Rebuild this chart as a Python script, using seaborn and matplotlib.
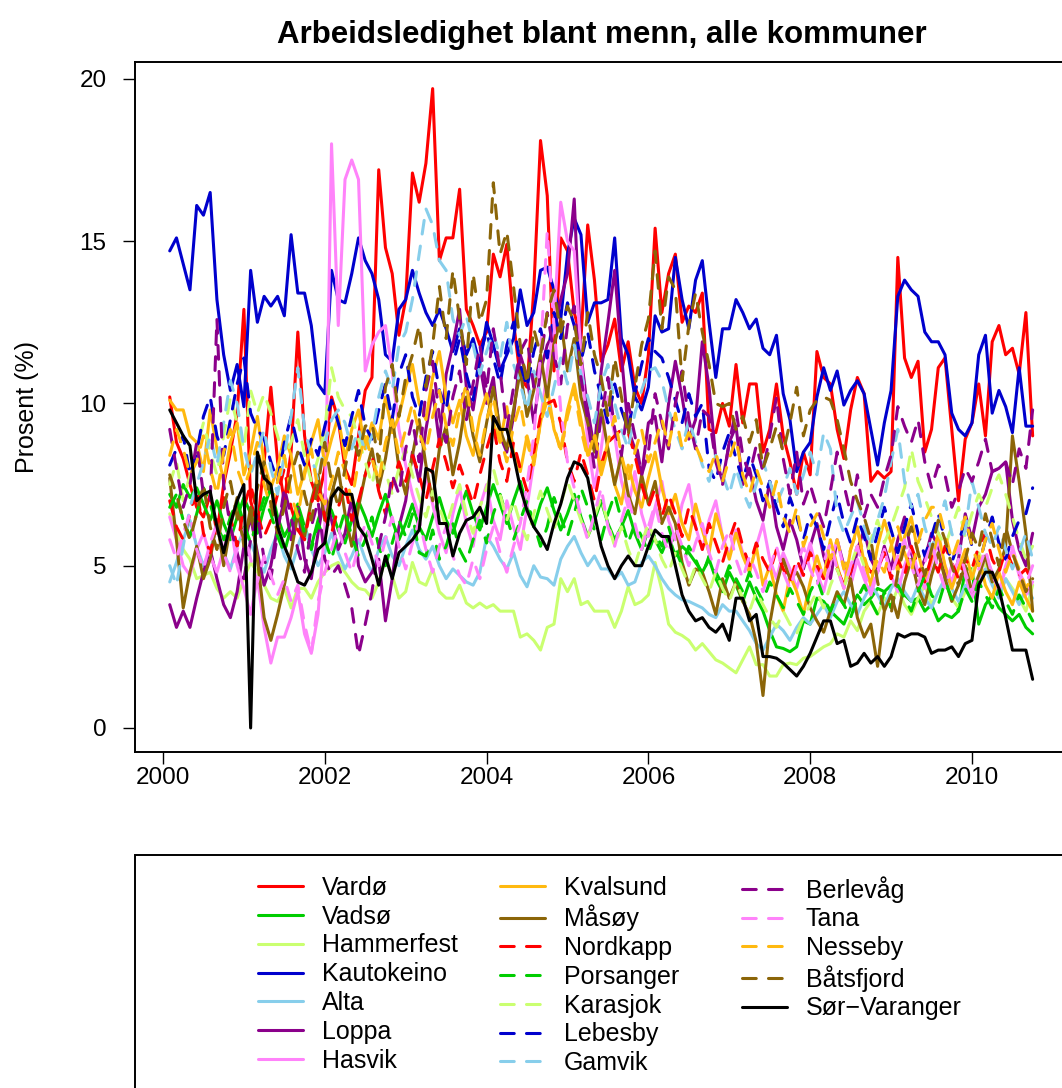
import numpy as np
import pandas as pd
import matplotlib
matplotlib.use("Agg")
import matplotlib.pyplot as plt
from matplotlib.patches import Rectangle
import seaborn as sns

# Monthly unemployment rate among men (percent), Feb 2000 - Oct 2010
months = np.arange(1, 130)
years = 2000 + months / 12

vardo = [10.2, 8.8, 8.3, 7.5, 6.8, 6.5, 7.2, 6.0, 7.5, 8.5, 9.7, 12.9,
         7.0, 6.2, 8.2, 10.5, 8.2, 7.0, 8.5, 12.2, 9.0, 7.6, 7.0, 8.0,
         10.2, 9.5, 8.0, 7.5, 9.0, 10.4, 10.8, 17.2, 14.8, 14.0, 12.1, 13.2,
         17.1, 16.2, 17.4, 19.7, 14.4, 15.1, 15.1, 16.6, 12.9, 12.4, 11.8, 12.2,
         14.6, 13.9, 14.9, 12.5, 10.8, 10.5, 13.5, 18.1, 16.4, 11.0, 15.1, 14.7,
         12.8, 12.0, 15.5, 13.8, 11.3, 11.8, 12.6, 11.0, 11.9, 10.5, 10.0, 11.5,
         15.4, 12.8, 14.0, 14.6, 12.5, 13.0, 12.8, 13.4, 9.2, 9.1, 10.0, 9.3,
         11.2, 9.4, 10.6, 10.6, 8.5, 9.2, 10.6, 9.0, 8.2, 7.2, 8.5, 7.8,
         11.6, 10.8, 10.6, 9.2, 8.3, 9.8, 10.8, 10.3, 7.6, 7.9, 7.7, 7.9,
         14.5, 11.4, 10.8, 11.3, 8.5, 9.2, 11.1, 11.4, 9.2, 7.0, 8.9, 9.4,
         10.6, 9.0, 11.9, 12.4, 11.5, 11.7, 10.9, 12.8, 9.0]

vadso = [7.2, 6.8, 7.5, 7.1, 7.4, 6.9, 6.4, 7.0, 6.3, 5.8, 6.5, 7.1,
         6.6, 6.0, 6.8, 7.4, 6.5, 5.9, 6.3, 6.9, 6.2, 5.6, 6.4, 7.0,
         6.7, 6.1, 5.7, 6.4, 7.0, 6.5, 5.9, 6.6, 7.2, 6.4, 5.8, 6.3,
         6.9, 6.2, 5.8, 6.5, 7.1, 6.4, 6.0, 6.7, 7.3, 6.6, 6.1, 6.8,
         7.5, 6.9, 6.3, 7.0, 7.6, 6.8, 6.2, 6.9, 7.4, 6.7, 6.1, 6.6,
         7.2, 6.5, 5.9, 6.4, 7.0, 6.3, 5.8, 6.2, 6.7, 6.0, 5.5, 6.1,
         5.8, 5.4, 5.9, 5.3, 5.6, 5.4, 5.1, 4.8, 5.2, 4.6, 4.2, 4.8,
         4.4, 3.9, 4.5, 4.0, 3.6, 3.0, 2.5, 2.45, 2.35, 2.5, 3.3, 3.2,
         4.0, 3.9, 3.6, 3.4, 3.2, 3.7, 4.1, 3.8, 4.0, 4.3, 4.2, 4.4,
         4.4, 4.1, 3.9, 4.0, 3.6, 3.8, 3.3, 3.5, 3.4, 3.6, 4.9, 4.9,
         3.2, 3.8, 4.1, 3.7, 3.5, 3.3, 3.5, 3.1, 2.9]

hammerfest = [6.6, 6.0, 5.5, 5.2, 4.6, 4.7, 4.8, 4.3, 4.0, 4.2, 4.0, 4.6,
              5.1, 4.8, 4.4, 4.0, 3.9, 4.3, 3.7, 4.3, 4.3, 4.0, 4.5, 4.8,
              5.0, 5.1, 4.8, 4.5, 4.3, 4.25, 4.0, 4.5, 5.2, 4.7, 4.0, 4.2,
              5.1, 4.5, 4.4, 4.9, 4.2, 4.0, 4.0, 4.4, 3.85, 3.7, 3.85, 3.7,
              3.8, 3.6, 3.6, 3.6, 2.8, 2.9, 2.7, 2.4, 3.1, 3.2, 4.6, 4.2,
              4.6, 3.8, 3.9, 3.6, 3.6, 3.6, 3.1, 3.6, 4.35, 3.8, 3.9, 4.1,
              5.1, 4.25, 3.2, 2.95, 2.85, 2.7, 2.4, 2.6, 2.35, 2.1, 2.0, 1.85,
              1.7, 2.1, 2.5, 1.95, 1.95, 1.6, 1.6, 1.95, 2.0, 1.95, 2.15, 2.2,
              2.35, 2.5, 2.6, 2.9, 2.8, 3.3, 3.0, 3.6, 3.9, 3.5, 4.0, 3.8,
              4.3, 3.8, 3.5, 4.0, 4.4, 3.8, 4.2, 4.6, 4.0, 3.7, 4.2, 4.8,
              5.4, 5.0, 4.5, 4.1, 4.6, 4.3, 4.0, 3.6, 4.4]

kautokeino = [14.7, 15.1, 14.3, 13.5, 16.1, 15.8, 16.5, 13.2, 11.5, 10.4, 11.2, 9.9,
              14.1, 12.5, 13.3, 13.0, 13.3, 12.7, 15.2, 13.4, 13.4, 12.4, 10.6, 10.3,
              14.1, 13.2, 13.1, 14.0, 15.1, 14.4, 14.0, 13.2, 11.5, 11.3, 12.9, 13.2,
              14.1, 13.4, 12.8, 12.4, 12.9, 12.3, 11.6, 12.3, 11.5, 12.0, 11.2, 12.5,
              11.8, 11.0, 11.5, 12.0, 13.5, 12.4, 12.8, 14.1, 14.2, 13.5, 12.6, 14.6,
              15.7, 15.2, 12.5, 13.1, 13.1, 13.2, 15.1, 12.0, 11.5, 10.2, 9.8, 10.5,
              12.7, 12.2, 12.3, 14.5, 13.2, 12.3, 13.8, 14.4, 12.5, 10.8, 12.3, 12.3,
              13.2, 12.8, 12.3, 12.6, 11.7, 11.5, 12.1, 10.3, 9.5, 7.9, 8.5, 8.8,
              10.2, 11.1, 10.4, 11.0, 9.95, 10.4, 10.7, 10.3, 9.2, 8.1, 9.4, 10.4,
              13.3, 13.8, 13.5, 13.3, 12.2, 11.9, 11.9, 11.5, 9.7, 9.2, 9.0, 9.4,
              11.5, 12.1, 9.7, 10.4, 9.9, 9.1, 11.1, 9.3, 9.3]

alta = [4.5, 5.1, 5.8, 6.4, 5.6, 5.0, 5.5, 6.2, 5.4, 4.9, 5.6, 6.1,
        5.7, 5.2, 4.8, 5.5, 6.0, 5.3, 4.9, 5.6, 6.2, 5.5, 5.0, 5.4,
        6.0, 5.4, 4.9, 5.3, 5.8, 5.2, 4.8, 5.5, 5.9, 5.3, 5.0, 5.6,
        6.1, 5.5, 5.2, 5.6, 5.0, 4.6, 4.9, 4.7, 4.5, 4.4, 4.8, 5.9,
        5.6, 5.2, 4.9, 5.4, 4.7, 4.35, 5.0, 4.65, 4.6, 4.4, 5.2, 5.6,
        5.9, 5.4, 5.0, 5.3, 4.9, 4.9, 4.6, 4.8, 4.4, 4.5, 5.1, 5.3,
        5.0, 4.6, 4.3, 4.1, 3.95, 3.9, 3.8, 3.7, 3.5, 3.4, 3.8, 3.6,
        3.6, 3.3, 3.0, 2.6, 2.4, 2.8, 3.2, 3.0, 2.7, 3.1, 3.4, 3.2,
        3.5, 3.8, 3.4, 3.9, 4.2, 3.8, 3.5, 4.0, 4.4, 4.1, 3.7, 4.3,
        4.6, 4.2, 3.9, 4.4, 4.0, 3.7, 4.2, 4.6, 4.3, 3.9, 4.4, 4.1,
        4.5, 4.9, 4.4, 4.0, 4.6, 4.2, 3.8, 4.3, 4.0]

loppa = [3.8, 3.1, 3.6, 3.1, 4.0, 4.8, 5.5, 4.6, 3.8, 3.4, 4.2, 5.6,
         6.5, 5.4, 4.4, 5.0, 6.2, 7.0, 5.8, 6.8, 5.2, 4.6, 6.0, 7.2,
         6.4, 5.5, 6.0, 7.1, 5.0, 4.5, 4.8, 5.2, 3.3, 4.6, 6.2, 7.0,
         8.5, 7.6, 9.2, 10.4, 8.8, 10.9, 11.8, 12.9, 10.5, 9.8, 11.2, 10.0,
         10.8, 9.0, 8.5, 9.6, 11.5, 10.8, 9.4, 11.0, 11.8, 12.2, 13.2, 14.0,
         16.3, 11.5, 9.8, 8.6, 11.0, 12.5, 14.1, 11.5, 9.2, 8.6, 7.8, 9.4,
         9.6, 8.2, 10.0, 11.3, 10.2, 8.9, 9.5, 11.9, 10.5, 8.3, 7.6, 8.8,
         9.3, 7.5, 8.0, 7.0, 6.4, 7.6, 6.2, 5.5, 6.4, 5.8, 4.9, 5.6,
         6.3, 5.3, 4.6, 5.8, 5.0, 4.4, 5.5, 6.1, 5.2, 4.8, 5.6, 4.9,
         5.8, 6.5, 5.4, 4.7, 5.2, 6.0, 5.6, 4.8, 4.4, 5.2, 6.6, 5.8,
         6.8, 7.2, 7.9, 8.0, 8.2, 6.4, 5.5, 5.0, 6.0]

hasvik = [6.5, 5.8, 5.0, 4.7, 5.5, 6.0, 5.3, 4.8, 5.5, 6.3, 5.0, 4.3,
          3.5, 4.6, 3.1, 2.0, 2.8, 2.8, 3.4, 4.2, 2.9, 2.3, 3.5, 6.2,
          18.0, 12.4, 16.9, 17.5, 16.9, 11.0, 11.8, 12.2, 12.4, 11.0, 9.2, 8.1,
          7.2, 6.5, 7.8, 6.9, 6.0, 5.4, 6.6, 7.4, 6.3, 5.6, 6.8, 7.5,
          6.4, 5.8, 7.0, 6.2, 5.5, 6.8, 8.2, 9.5, 11.0, 12.5, 16.2, 15.0,
          14.7, 11.5, 8.8, 7.4, 8.6, 10.2, 9.0, 7.6, 6.8, 7.9, 6.6, 5.9,
          6.8, 7.6, 6.4, 5.8, 6.9, 7.5, 6.2, 5.5, 6.4, 7.0, 5.9, 5.3,
          6.1, 5.4, 4.8, 5.6, 6.3, 5.2, 4.6, 5.4, 4.9, 4.3, 5.0, 5.7,
          4.8, 4.2, 5.1, 5.8, 4.9, 4.4, 5.2, 4.6, 4.1, 4.8, 5.5, 4.7,
          4.2, 5.0, 5.6, 4.8, 4.3, 5.1, 5.8, 5.0, 4.5, 5.2, 4.7, 4.0,
          4.6, 5.3, 4.8, 4.2, 4.9, 5.5, 4.7, 4.1, 4.5]

kvalsund = [10.1, 9.8, 9.8, 9.0, 8.8, 7.9, 9.8, 8.6, 7.6, 8.8, 9.4, 7.8,
            8.5, 9.6, 8.2, 7.4, 8.0, 9.0, 8.4, 7.2, 7.9, 8.8, 9.5, 8.1,
            8.9, 9.6, 8.3, 9.2, 9.8, 8.6, 9.4, 8.9, 10.2, 9.1, 9.6, 10.5,
            11.2, 10.0, 9.5, 10.8, 11.6, 10.2, 9.4, 10.1, 9.0, 8.4, 9.6, 10.3,
            9.4, 8.8, 9.9, 8.5, 7.9, 9.0, 8.2, 9.4, 10.5, 9.2, 8.6, 9.8,
            10.6, 9.5, 8.4, 9.0, 7.8, 8.6, 7.5, 6.9, 8.1, 7.3, 6.8, 7.7,
            8.5, 7.4, 6.6, 7.2, 6.3, 5.8, 6.9, 6.1, 5.4, 6.6, 5.9, 5.2,
            6.0, 5.3, 4.8, 5.6, 4.4, 5.0, 4.1, 3.6, 4.7, 4.2, 3.5, 4.5,
            5.3, 4.6, 5.8, 5.0, 4.3, 5.5, 6.2, 5.1, 4.4, 5.6, 6.4, 5.7,
            4.8, 5.9, 6.5, 5.4, 4.6, 5.2, 6.0, 5.0, 4.3, 4.9, 5.5, 4.6,
            5.3, 4.4, 4.0, 4.8, 4.2, 3.8, 4.5, 4.0, 3.6]

masoy = [7.7, 5.8, 3.7, 4.8, 5.6, 4.6, 5.2, 6.4, 5.0, 6.2, 7.1, 5.6,
         6.8, 5.2, 3.4, 2.7, 3.5, 4.4, 5.4, 6.6, 5.9, 7.0, 7.8, 6.4,
         7.2, 8.0, 6.6, 5.6, 6.8, 7.8, 8.6, 7.4, 8.3, 9.6, 8.0, 7.2,
         8.4, 9.5, 8.1, 7.0, 8.6, 9.3, 7.8, 8.8, 10.2, 9.0, 8.2, 9.4,
         10.5, 9.2, 8.6, 9.8, 11.0, 9.6, 10.4, 11.5, 10.2, 11.8, 12.6, 11.0,
         12.0, 10.2, 9.4, 8.5, 9.8, 8.6, 7.5, 8.4, 7.2, 6.6, 7.8, 6.9,
         7.6, 6.3, 6.8, 6.3, 5.1, 4.4, 4.9, 4.8, 4.2, 3.5, 4.6, 4.0,
         4.5, 3.9, 3.5, 2.65, 1.0, 3.2, 4.4, 5.2, 4.6, 4.8, 4.35, 3.7,
         3.3, 2.95, 3.6, 4.2, 3.8, 4.6, 3.4, 2.8, 3.2, 1.9, 3.6, 4.1,
         3.4, 4.5, 5.2, 4.3, 3.8, 4.7, 5.4, 4.6, 3.9, 4.4, 5.0, 4.2,
         4.7, 5.3, 4.5, 4.9, 5.6, 9.0, 7.6, 6.0, 3.6]

nordkapp = [7.0, 6.2, 5.8, 6.6, 7.4, 6.0, 5.4, 6.3, 7.1, 6.5, 5.6, 6.8,
            7.5, 6.6, 5.9, 6.4, 7.2, 8.0, 6.8, 6.1, 5.8, 6.9, 7.6, 6.5,
            6.0, 6.8, 7.5, 6.4, 7.0, 7.8, 8.4, 7.3, 6.6, 7.5, 8.2, 7.6,
            8.4, 7.8, 7.0, 8.0, 8.9, 8.2, 7.4, 8.1, 7.5, 6.9, 7.8, 8.6,
            9.3, 8.2, 7.6, 8.8, 8.0, 7.3, 8.5, 9.6, 10.0, 10.1, 9.4, 8.2,
            7.6, 8.5, 7.8, 7.0, 8.1, 8.8, 9.0, 9.2, 9.1, 8.4, 7.5, 6.8,
            7.4, 6.5, 7.2, 6.6, 5.9, 6.8, 6.2, 5.5, 6.3, 5.7, 5.1, 5.8,
            6.4, 5.6, 5.0, 5.7, 5.2, 4.8, 5.5, 4.9, 4.5, 5.2, 4.7, 5.4,
            5.0, 4.6, 5.3, 4.9, 4.4, 4.8, 5.6, 5.1, 4.8, 4.9, 5.4, 4.6,
            5.2, 4.7, 5.6, 5.0, 4.5, 5.3, 4.8, 5.6, 5.1, 4.6, 5.2, 4.9,
            5.6, 6.0, 5.2, 4.8, 5.5, 5.0, 4.7, 4.9, 4.5]

porsanger = [6.8, 7.2, 6.4, 5.9, 6.6, 7.4, 6.9, 6.2, 5.8, 6.5, 7.0, 6.3,
             5.7, 6.4, 7.1, 6.6, 5.9, 5.4, 6.2, 6.8, 6.0, 5.5, 6.3, 5.8,
             5.2, 6.0, 6.7, 5.9, 5.3, 5.8, 6.5, 5.6, 5.0, 5.7, 6.4, 5.9,
             6.6, 5.4, 5.3, 6.1, 5.2, 5.6, 6.3, 5.5, 5.1, 5.8, 6.4, 5.7,
             6.6, 7.2, 6.5, 5.8, 6.4, 7.0, 6.3, 5.6, 6.2, 7.1, 6.5, 5.9,
             6.6, 7.4, 6.8, 6.1, 5.8, 6.6, 7.2, 6.4, 5.7, 6.3, 5.9, 5.4,
             6.0, 5.6, 6.2, 5.5, 5.0, 5.6, 5.2, 4.7, 5.3, 4.8, 4.4, 5.0,
             4.6, 4.2, 4.8, 4.3, 3.9, 4.5, 4.1, 3.7, 4.3, 3.9, 3.5, 4.2,
             4.6, 4.0, 3.6, 4.1, 3.8, 3.4, 4.0, 4.4, 3.9, 3.5, 4.2, 3.7,
             4.4, 4.0, 3.6, 4.2, 4.7, 4.1, 3.8, 4.5, 4.0, 3.6, 4.3, 3.9,
             4.5, 4.1, 3.7, 4.3, 3.9, 3.5, 4.1, 3.7, 3.3]

karasjok = [7.5, 8.2, 7.0, 7.8, 8.6, 9.4, 8.5, 7.8, 9.0, 10.2, 9.4, 8.6,
            10.4, 9.7, 10.3, 9.7, 9.0, 8.2, 8.8, 9.5, 8.4, 7.6, 8.3, 9.2,
            11.1, 10.2, 9.8, 9.6, 8.9, 8.2, 7.5, 8.4, 7.9, 7.2, 8.0, 8.6,
            7.8, 7.1, 6.5, 7.3, 6.8, 6.2, 6.9, 7.5, 6.6, 6.0, 6.8, 7.4,
            8.0, 7.2, 6.4, 7.0, 6.3, 5.8, 6.6, 7.3, 6.7, 6.1, 6.9, 7.6,
            7.0, 6.4, 5.9, 6.5, 7.1, 6.3, 5.6, 6.2, 5.5, 5.0, 5.7, 6.3,
            5.8, 5.2, 4.8, 5.4, 4.9, 4.4, 5.0, 4.6, 4.2, 4.8, 4.3, 3.9,
            4.5, 4.0, 3.6, 4.2, 3.8, 3.4, 3.1, 3.6, 3.2, 2.9, 3.4, 3.8,
            4.2, 3.7, 4.4, 4.9, 4.3, 5.0, 5.6, 5.0, 5.8, 6.4, 5.7, 6.2,
            6.8, 7.4, 8.6, 7.6, 7.1, 6.5, 6.0, 5.6, 6.2, 6.8, 5.9, 6.6,
            7.2, 6.8, 7.4, 7.8, 7.2, 6.5, 5.8, 5.2, 5.6]

lebesby = [8.1, 8.6, 9.0, 7.8, 8.5, 9.6, 10.2, 9.0, 8.4, 9.5, 10.6, 11.4,
           9.7, 9.2, 8.9, 8.2, 7.6, 8.8, 9.6, 8.7, 8.1, 8.9, 8.4, 9.3,
           10.1, 9.4, 8.7, 9.6, 10.4, 9.3, 8.9, 9.8, 10.6, 9.5, 10.9, 11.5,
           10.2, 9.6, 10.8, 11.6, 10.4, 9.8, 11.2, 12.0, 10.9, 10.1, 11.5, 12.2,
           11.4, 10.6, 11.8, 12.5, 11.2, 10.5, 11.6, 12.3, 11.4, 12.8, 12.0, 13.1,
           12.4, 11.3, 12.2, 11.0, 10.2, 9.4, 10.6, 9.8, 9.2, 10.3, 11.2, 12.0,
           11.6, 11.4, 10.8, 10.1, 9.4, 10.3, 9.6, 10.0, 8.0, 7.6, 8.5, 9.1,
           8.3, 7.6, 8.4, 7.8, 7.0, 7.6, 6.8, 6.2, 7.1, 6.5, 5.8, 6.6,
           6.2, 5.5, 6.4, 7.2, 6.3, 5.7, 6.5, 5.9, 5.2, 6.0, 6.8, 6.1,
           5.4, 6.2, 6.9, 6.0, 5.3, 5.9, 6.6, 5.8, 5.1, 5.7, 6.4, 5.6,
           5.0, 5.8, 6.5, 5.7, 5.2, 5.9, 6.4, 6.6, 7.4]

gamvik = [5.0, 4.4, 5.6, 6.8, 7.5, 8.2, 9.0, 8.1, 9.4, 10.7, 10.0, 8.6,
          7.8, 8.5, 9.2, 8.0, 7.2, 8.4, 9.6, 11.1, 9.2, 8.4, 7.6, 8.8,
          9.5, 9.8, 9.4, 8.6, 9.2, 8.5, 9.0, 10.2, 11.0, 10.4, 11.8, 12.2,
          13.2, 14.6, 16.0, 15.5, 14.4, 14.1, 12.6, 12.1, 12.7, 11.8, 10.9, 11.6,
          12.2, 11.4, 12.5, 11.2, 10.6, 9.8, 11.0, 10.3, 9.6, 10.5, 11.4, 10.6,
          11.8, 10.9, 10.2, 9.4, 10.6, 11.2, 10.0, 9.2, 8.6, 9.7, 10.4, 11.0,
          11.1, 10.7, 9.8, 9.2, 8.6, 9.5, 8.8, 8.1, 7.6, 8.4, 7.8, 7.2,
          8.0, 7.3, 6.8, 7.5, 8.2, 7.6, 6.9, 7.4, 8.0, 7.2, 7.8, 8.5,
          7.8, 9.1, 8.6, 6.6, 6.0, 6.5, 7.0, 6.2, 5.6, 6.4, 7.1, 8.2,
          9.2, 7.6, 6.8, 7.2, 6.2, 5.5, 6.3, 7.0, 6.0, 5.4, 6.1, 7.6,
          6.8, 6.0, 5.6, 6.2, 5.5, 4.9, 5.4, 6.0, 5.2]

berlevag = [9.2, 8.0, 6.8, 7.5, 8.8, 7.2, 7.0, 12.6, 7.5, 6.2, 5.4, 4.6,
            5.8, 6.6, 5.2, 4.6, 6.0, 7.4, 6.5, 5.5, 4.8, 6.2, 7.0, 5.2,
            4.7, 5.0, 4.4, 3.7, 2.25, 3.2, 4.2, 5.6, 6.5, 7.8, 7.2, 8.6,
            9.5, 8.2, 10.4, 11.3, 9.6, 8.8, 10.2, 11.0, 9.5, 10.6, 11.8, 10.4,
            12.3, 11.0, 9.2, 10.5, 11.6, 12.0, 10.5, 11.3, 12.8, 11.5, 10.6, 12.4,
            13.0, 10.8, 9.5, 8.0, 9.6, 10.8, 9.2, 8.4, 10.0, 9.0, 7.8, 8.5,
            10.3, 9.4, 8.6, 10.0, 11.0, 9.5, 8.6, 9.8, 9.6, 8.2, 7.5, 8.8,
            9.8, 8.4, 7.8, 8.7, 7.9, 9.0, 10.2, 8.3, 7.2, 8.5, 6.9, 7.5,
            6.8, 6.2, 7.3, 8.5, 7.5, 6.6, 7.8, 6.5, 7.2, 6.8, 7.7, 8.4,
            9.9, 9.3, 8.8, 9.5, 8.2, 7.4, 8.1, 7.8, 6.8, 7.3, 8.0, 7.6,
            8.2, 8.9, 7.9, 8.0, 8.2, 7.5, 8.6, 8.0, 9.8]

tana = [5.8, 5.2, 6.0, 6.6, 5.5, 4.9, 5.7, 6.3, 5.4, 4.8, 5.5, 6.1,
        5.2, 4.5, 5.3, 4.7, 4.1, 4.6, 3.9, 4.4, 3.2, 2.3, 3.9, 4.8,
        5.5, 6.2, 5.4, 4.8, 5.6, 6.3, 5.7, 5.0, 5.8, 6.5, 5.6, 4.9,
        5.7, 6.4, 5.5, 4.8, 5.6, 6.2, 5.3, 4.7, 4.4, 5.2, 4.6, 5.5,
        6.2, 5.4, 4.8, 5.6, 6.3, 7.5, 9.0, 11.5, 15.3, 12.4, 9.8, 8.2,
        7.4, 6.5, 5.8, 6.6, 7.4, 6.2, 5.6, 6.4, 7.1, 6.3, 5.5, 6.2,
        6.9, 6.0, 5.4, 6.2, 5.6, 5.0, 5.7, 6.3, 5.4, 4.8, 5.6, 6.1,
        5.2, 4.6, 5.3, 4.8, 4.2, 4.9, 5.6, 4.8, 4.3, 5.0, 5.6, 4.9,
        4.4, 5.1, 5.7, 4.9, 4.3, 5.0, 5.6, 4.8, 4.2, 4.9, 5.5, 4.7,
        5.3, 5.8, 5.0, 4.4, 5.1, 5.7, 4.9, 4.3, 5.0, 5.6, 4.8, 4.2,
        4.9, 5.5, 4.7, 4.3, 5.0, 5.6, 4.8, 4.4, 5.0]

nesseby = [8.4, 9.2, 8.6, 7.8, 8.2, 9.0, 8.0, 7.2, 8.5, 9.2, 8.0, 7.4,
           8.0, 8.8, 7.5, 6.8, 7.6, 8.4, 7.2, 6.5, 7.8, 8.6, 7.3, 6.9,
           7.6, 8.5, 7.9, 7.0, 8.2, 9.0, 8.3, 7.6, 8.8, 9.5, 8.4, 9.2,
           10.0, 9.1, 8.5, 9.6, 10.4, 9.3, 8.7, 9.8, 10.6, 9.2, 8.4, 9.5,
           10.2, 9.0, 8.2, 9.3, 10.0, 8.8, 8.1, 9.4, 10.1, 9.3, 8.5, 9.6,
           10.4, 9.2, 8.3, 9.1, 8.0, 8.8, 9.6, 8.4, 7.6, 8.5, 9.2, 8.2,
           8.8, 9.5, 8.7, 9.7, 8.6, 9.1, 8.7, 8.2, 7.9, 8.5, 7.6, 8.3,
           8.9, 7.8, 7.2, 8.0, 7.4, 6.8, 7.6, 6.5, 6.0, 6.8, 5.6, 6.2,
           6.6, 5.9, 5.2, 5.8, 4.9, 5.5, 6.1, 5.3, 4.6, 5.2, 4.8, 5.6,
           6.2, 5.4, 4.8, 5.7, 6.4, 6.8, 6.8, 6.0, 5.2, 5.8, 6.5, 5.6,
           5.0, 5.8, 6.3, 5.5, 4.8, 5.4, 4.9, 4.3, 4.7]

batsfjord = [7.8, 7.2, 6.4, 5.8, 6.6, 7.5, 6.2, 5.5, 6.8, 7.6, 6.5, 5.8,
             6.5, 7.4, 8.2, 6.9, 6.0, 6.8, 7.8, 8.5, 7.2, 6.4, 7.5, 8.8,
             7.6, 6.8, 8.0, 9.0, 8.4, 9.3, 9.4, 8.2, 10.5, 11.2, 9.6, 10.8,
             11.5, 12.4, 10.5, 11.8, 13.6, 12.0, 14.1, 12.6, 11.2, 14.0, 12.5, 13.2,
             16.8, 14.6, 15.3, 13.6, 11.8, 10.6, 12.3, 11.5, 12.8, 13.5, 12.2, 13.0,
             12.5, 11.2, 12.8, 11.5, 10.8, 9.6, 11.4, 10.2, 9.0, 10.5, 11.8, 12.6,
             14.7, 12.3, 13.9, 13.5, 10.7, 12.4, 13.4, 12.2, 11.2, 10.0, 9.9, 10.0,
             9.2, 9.6, 8.8, 9.5, 8.0, 8.6, 9.3, 8.5, 9.4, 10.5, 9.0, 9.8,
             10.1, 10.2, 10.1, 9.5, 8.6, 7.6, 7.0, 6.5, 5.8, 4.5, 3.6, 3.5,
             4.8, 5.6, 6.2, 5.4, 4.7, 5.5, 6.4, 5.8, 5.0, 4.4, 5.2, 6.0,
             5.5, 6.6, 5.8, 5.0, 6.2, 5.4, 4.8, 4.2, 4.6]

sor_varanger = [9.8, 9.4, 9.0, 8.7, 7.0, 7.2, 7.3, 6.2, 5.4, 6.3, 7.0, 7.5,
                0.0, 8.5, 7.7, 7.5, 6.2, 5.6, 5.1, 4.5, 4.4, 4.8, 5.5, 5.7,
                7.1, 7.4, 7.2, 7.2, 6.2, 5.9, 5.2, 4.4, 5.3, 4.6, 5.4, 5.6,
                5.8, 6.1, 8.0, 7.9, 6.3, 6.3, 5.3, 6.0, 6.4, 6.5, 6.8, 6.3,
                9.6, 9.2, 9.2, 8.4, 7.4, 6.7, 6.2, 5.9, 5.5, 6.3, 6.9, 7.7,
                8.2, 8.1, 7.7, 6.6, 5.6, 5.0, 4.6, 5.0, 5.3, 5.0, 5.0, 5.6,
                6.1, 5.9, 5.9, 5.0, 4.1, 3.6, 3.3, 3.4, 3.1, 2.95, 3.2, 2.7,
                4.0, 4.0, 3.3, 3.5, 2.2, 2.2, 2.15, 2.0, 1.8, 1.6, 1.9, 2.3,
                2.8, 3.3, 3.3, 2.6, 2.7, 1.9, 2.0, 2.3, 2.0, 2.2, 1.9, 2.2,
                2.9, 2.8, 2.9, 2.9, 2.8, 2.3, 2.4, 2.4, 2.5, 2.2, 2.6, 2.7,
                4.4, 4.8, 4.8, 4.3, 3.4, 2.4, 2.4, 2.4, 1.5]

kommuner = ["Vardø", "Vadsø", "Hammerfest", "Kautokeino", "Alta", "Loppa",
            "Hasvik", "Kvalsund", "Måsøy", "Nordkapp", "Porsanger", "Karasjok",
            "Lebesby", "Gamvik", "Berlevåg", "Tana", "Nesseby", "Båtsfjord",
            "Sør−Varanger"]
series = [vardo, vadso, hammerfest, kautokeino, alta, loppa, hasvik,
          kvalsund, masoy, nordkapp, porsanger, karasjok, lebesby, gamvik,
          berlevag, tana, nesseby, batsfjord, sor_varanger]

base_colors = ["#FF0000", "#00CD00", "#CAFF70", "#0000CD", "#87CEEB",
               "#8B008B", "#FF83FA", "#FFB90F", "#8B6508"]
colors = base_colors + base_colors + ["#000000"]
dashed = [False] * 9 + [True] * 9 + [False]

for name, vals in zip(kommuner, series):
    if len(vals) != len(years):
        raise ValueError(f"{name}: {len(vals)} values")

df = pd.DataFrame({
    "år": np.tile(years, len(kommuner)),
    "prosent": np.concatenate(series),
    "kommune": np.repeat(kommuner, len(years)),
})

plt.rcParams["font.family"] = ["Liberation Sans", "DejaVu Sans"]

W, H = 1062, 1088
fig = plt.figure(figsize=(W / 100, H / 100), dpi=100)
left, right, top, bottom = 135, 1068, 62, 752
ax = fig.add_axes([left / W, 1 - bottom / H, (right - left) / W, (bottom - top) / H])

for name, color, dash in zip(kommuner, colors, dashed):
    sub = df[df["kommune"] == name]
    sns.lineplot(data=sub, x="år", y="prosent", ax=ax, color=color,
                 linewidth=2.2, estimator=None, sort=False, label=name,
                 linestyle=(0, (4.5, 4)) if dash else "-",
                 solid_capstyle="round", dash_capstyle="round",
                 solid_joinstyle="round", dash_joinstyle="round")

ax.set_xlim(1999.654, 2011.187)
ax.set_ylim(-0.74, 20.52)
ax.set_xticks([2000, 2002, 2004, 2006, 2008, 2010])
ax.set_yticks([0, 5, 10, 15, 20])
ax.tick_params(axis="both", labelsize=17.5, length=8.5, width=1.0,
               direction="out", color="black")
ax.tick_params(axis="x", pad=2.5)
ax.tick_params(axis="y", pad=12)
for sp in ax.spines.values():
    sp.set_linewidth(1.4)
    sp.set_color("black")
ax.set_xlabel("")
ax.set_ylabel("Prosent (%)", fontsize=18, labelpad=29)
ax.grid(False)
ax.set_facecolor("white")

fig.text(602 / W, 1 - 35 / H, "Arbeidsledighet blant menn, alle kommuner",
         ha="center", va="center", fontsize=22.5, fontweight="bold")

# Legend: three columns of equal width, filled column by column
handles, labels = ax.get_legend_handles_labels()
if ax.get_legend() is not None:
    ax.get_legend().remove()
col_x = [258, 500, 742]
col_items = [range(0, 7), range(7, 14), range(14, 19)]
for cx, idx in zip(col_x, col_items):
    leg = fig.legend([handles[i] for i in idx], [labels[i] for i in idx],
                     loc="upper left", bbox_to_anchor=(cx / W, 1 - 876 / H),
                     frameon=False, fontsize=18, handlelength=1.8,
                     handletextpad=0.75, labelspacing=0.19, borderpad=0,
                     borderaxespad=0)

fig.patches.append(Rectangle((left / W, -0.1), 1.2, 0.1 + 1 - 855 / H,
                             transform=fig.transFigure, fill=False,
                             edgecolor="black", linewidth=1.4))

fig.savefig("out.png", dpi=100, facecolor="white")
